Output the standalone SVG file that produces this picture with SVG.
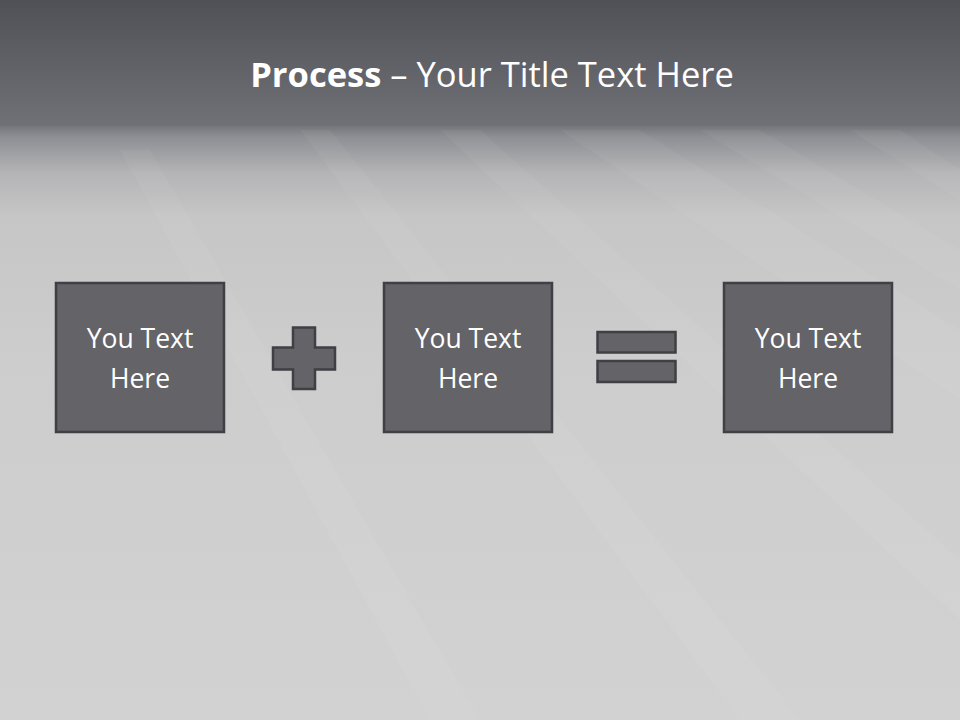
<svg xmlns="http://www.w3.org/2000/svg" width="960" height="720" viewBox="0 0 960 720">
<defs>
<linearGradient id="bg" x1="0" y1="0" x2="0" y2="1">
<stop offset="0" stop-color="#505157"/>
<stop offset="0.17" stop-color="#6d6e73"/>
<stop offset="0.19" stop-color="#8e8f93"/>
<stop offset="0.24" stop-color="#b4b4b6"/>
<stop offset="0.30" stop-color="#c6c6c7"/>
<stop offset="0.5" stop-color="#cdcdcd"/>
<stop offset="1" stop-color="#d2d2d2"/>
</linearGradient>
<linearGradient id="dark" x1="0" y1="0" x2="0" y2="1">
<stop offset="0" stop-color="#505157"/>
<stop offset="1" stop-color="#707176"/>
</linearGradient>
<style>
.box{fill:#636368;stroke:#3f3f44;stroke-width:2.5}
.sym{fill:#636368;stroke:#3f3f44;stroke-width:2.5}
.bt{font-family:"Open Sans","Liberation Sans",sans-serif;font-size:26.5px;fill:#ffffff;text-anchor:middle}
.streak{fill:#ffffff;opacity:0.045}
</style>
</defs>
<rect x="0" y="0" width="960" height="720" fill="url(#bg)"/>
<g id="streaks">
<polygon class="streak" points="560,130 640,130 960,330 960,400"/>
<polygon class="streak" points="700,130 760,130 960,250 960,290"/>
<polygon class="streak" points="850,130 900,130 960,170 960,200"/>
<polygon class="streak" points="440,130 480,130 960,560 960,620"/>
<polygon class="streak" points="300,130 330,130 800,720 740,720"/>
<polygon class="streak" points="120,150 150,150 480,720 430,720"/>
</g>
<rect x="0" y="0" width="960" height="126" fill="url(#dark)"/>
<text x="492" y="87" text-anchor="middle" font-family="'Open Sans','Liberation Sans',sans-serif" font-size="34.5" fill="#ffffff"><tspan font-weight="bold">Process</tspan> – Your Title Text Here</text>
<g id="node1">
<rect class="box" x="56" y="283" width="168" height="149"/>
<text class="bt" x="140" y="348">You Text</text>
<text class="bt" x="140" y="388">Here</text>
</g>
<g id="plus">
<path class="sym" d="M293,327.5 H315 V347.5 H335 V369.5 H315 V389 H293 V369.5 H273 V347.5 H293 Z"/>
</g>
<g id="node2">
<rect class="box" x="384" y="283" width="168" height="149"/>
<text class="bt" x="468" y="348">You Text</text>
<text class="bt" x="468" y="388">Here</text>
</g>
<g id="equals">
<rect class="sym" x="597.5" y="332" width="78" height="20.5"/>
<rect class="sym" x="597.5" y="361" width="78" height="21"/>
</g>
<g id="node3">
<rect class="box" x="724" y="283" width="168" height="149"/>
<text class="bt" x="808" y="348">You Text</text>
<text class="bt" x="808" y="388">Here</text>
</g>
<g id="connectors"/>
</svg>
